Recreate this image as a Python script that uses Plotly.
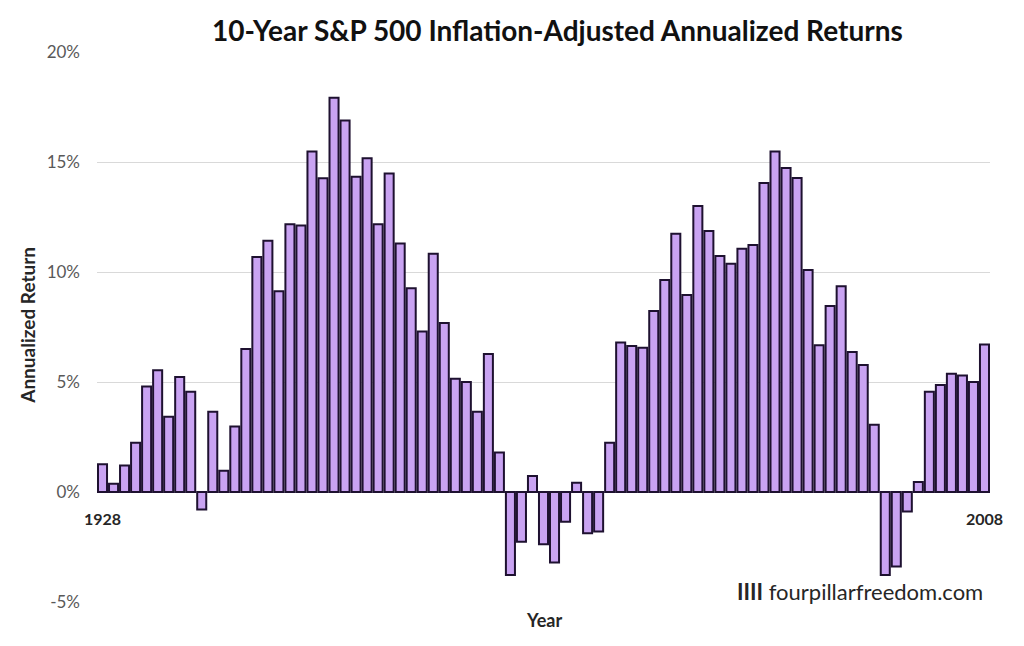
import plotly.graph_objects as go

years = list(range(1928, 2009))
returns = [
    1.26, 0.38, 1.21, 2.24, 4.79, 5.53, 3.42, 5.23, 4.56, -0.79,
    3.65, 0.97, 2.98, 6.50, 10.68, 11.42, 9.12, 12.17, 12.11, 15.48,
    14.26, 17.92, 16.89, 14.33, 15.17, 12.17, 14.48, 11.29, 9.26, 7.30,
    10.83, 7.68, 5.15, 5.00, 3.65, 6.27, 1.79, -3.77, -2.26, 0.73,
    -2.38, -3.21, -1.35, 0.42, -1.88, -1.80, 2.24, 6.79, 6.64, 6.56,
    8.23, 9.64, 11.74, 8.95, 13.00, 11.86, 10.73, 10.38, 11.06, 11.23,
    14.05, 15.48, 14.73, 14.27, 10.09, 6.67, 8.45, 9.35, 6.36, 5.77,
    3.06, -3.77, -3.39, -0.89, 0.45, 4.56, 4.86, 5.38, 5.30, 5.00,
    6.71,
]
y_ticks = [-5, 0, 5, 10, 15, 20]
y_tick_labels = ["-5%", "0%", "5%", "10%", "15%", "20%"]
x_labels = [1928, 2008]

title = "10-Year S&P 500 Inflation-Adjusted Annualized Returns"
font_main = "Lato, 'Open Sans', sans-serif"

fig = go.Figure()
fig.add_trace(go.Bar(
    x=years, y=returns,
    marker=dict(color="#C9A3F2", line=dict(color="#1E1130", width=2)),
    width=0.82,
    hoverinfo="x+y",
))

annotations = []
for yr in x_labels:
    annotations.append(dict(
        x=yr, y=0, xref="x", yref="y", text=f"<b>{yr}</b>",
        showarrow=False, yanchor="middle", yshift=-26,
        font=dict(family=font_main, size=16, color="#262626"),
    ))
annotations.append(dict(
    x=0.5, y=-0.033, xref="paper", yref="paper", text="<b>Year</b>",
    showarrow=False, yanchor="middle", xanchor="center",
    font=dict(family=font_main, size=18, color="#262626"),
))
annotations.append(dict(
    x=-0.0773, y=0.504, xref="paper", yref="paper", xanchor="center",
    yanchor="middle",
    text="<b>Annualized Return</b>", textangle=-90, showarrow=False,
    font=dict(family=font_main, size=19, color="#262626"),
))
annotations.append(dict(
    x=0.9944, y=-5, xref="paper", yref="y", xanchor="right", yanchor="middle",
    yshift=11,
    text="<b>IIII</b> fourpillarfreedom.com", showarrow=False,
    font=dict(family=font_main, size=22, color="#262626"),
))

fig.update_layout(
    width=1008, height=630,
    margin=dict(l=89, r=26, t=44, b=36),
    paper_bgcolor="white", plot_bgcolor="white",
    showlegend=False,
    bargap=0.1,
    title=dict(text=f"<b>{title}</b>", x=0.545, xanchor="center",
               y=0.963, yanchor="middle", yref="container",
               font=dict(family=font_main, size=28, color="#111111")),
    xaxis=dict(range=[1927.5, 2008.5], showticklabels=False, showgrid=False,
               zeroline=False, showline=False, ticks=""),
    yaxis=dict(range=[-5, 20], tickvals=y_ticks, ticktext=y_tick_labels,
               showgrid=True, gridcolor="#D9D9D9", gridwidth=1,
               zeroline=True, zerolinecolor="#D9D9D9", zerolinewidth=1,
               showline=False, ticks="", ticklabelstandoff=16,
               tickfont=dict(family=font_main, size=17, color="#595959")),
    annotations=annotations,
)

fig.write_html("out.html")
